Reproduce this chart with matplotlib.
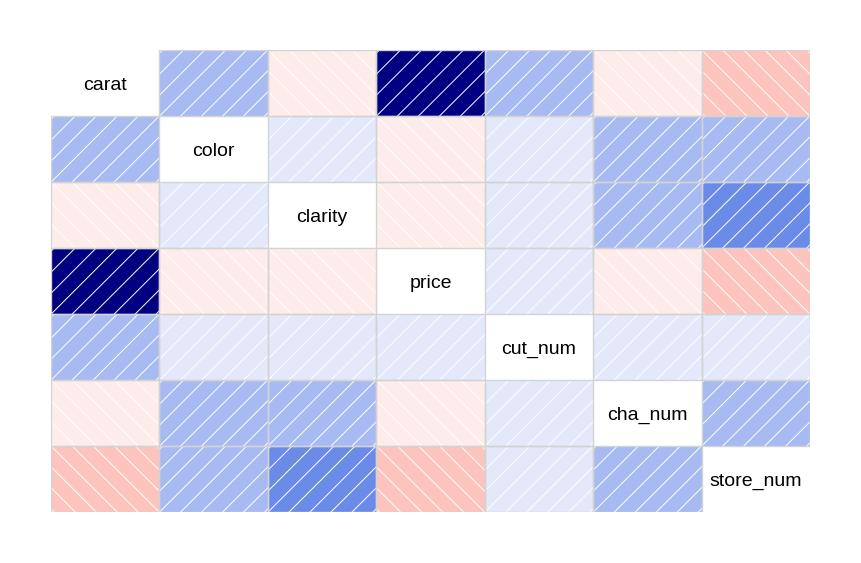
import numpy as np
import matplotlib
matplotlib.use('Agg')
import matplotlib.pyplot as plt
from matplotlib.colors import LinearSegmentedColormap
from matplotlib.patches import Rectangle

labels = ['carat', 'color', 'clarity', 'price', 'cut_num', 'cha_num', 'store_num']

# correlations (upper triangle, row by row)
carat_r = [0.20, -0.07, 0.92, 0.20, -0.07, -0.20]
color_r = [0.07, -0.07, 0.07, 0.20, 0.20]
clarity_r = [-0.07, 0.07, 0.20, 0.35]
price_r = [0.07, -0.07, -0.20]
cut_r = [0.07, 0.07]
cha_r = [0.20]

n = len(labels)
corr = np.eye(n)
for i, row in enumerate([carat_r, color_r, clarity_r, price_r, cut_r, cha_r]):
    for k, v in enumerate(row):
        corr[i, i + 1 + k] = v
        corr[i + 1 + k, i] = v

# corrgram style palette: 14 bins from red to navy
ramp = LinearSegmentedColormap.from_list('shade', ['red', 'salmon', 'white', 'royalblue', 'navy'])
ncol = 14
pal = [ramp(t) for t in np.linspace(0, 1, ncol)]
breaks = np.linspace(-1, 1, ncol + 1)

W, H = 861, 563
fig = plt.figure(figsize=(W / 100, H / 100), dpi=100)
x0, x1, y0, y1 = 51, 810, 50, 512
ax = fig.add_axes([x0 / W, 1 - y1 / H, (x1 - x0) / W, (y1 - y0) / H])
ax.set_xlim(0, n)
ax.set_ylim(n, 0)
ax.axis('off')

px_x = (x1 - x0) / n   # pixels per data unit
px_y = (y1 - y0) / n
gap = 21.0             # horizontal spacing of hatch lines in pixels

for i in range(n):
    for j in range(n):
        if i == j:
            ax.text(j + 0.5, i + 0.54, labels[i], ha='center', va='center',
                    fontsize=14, family='Liberation Sans')
            continue
        r = corr[i, j]
        idx = min(np.searchsorted(breaks, r, side='right') - 1, ncol - 1)
        ax.add_patch(Rectangle((j, i), 1, 1, facecolor=pal[idx], edgecolor='none', zorder=1))
        clip = Rectangle((j, i), 1, 1, transform=ax.transData, facecolor='none', edgecolor='none')
        ax.add_patch(clip)
        # 45 degree white lines in pixel space
        sgn = 1 if r > 0 else -1
        cx, cy = j + 0.5, i + 0.5
        for k in range(-12, 13):
            ox = k * gap / px_x
            xs = np.array([cx + ox - 2, cx + ox + 2])
            ys = cy - sgn * (xs - cx - ox) * px_x / px_y
            ln, = ax.plot(xs, ys, color='white', lw=0.7, zorder=2)
            ln.set_clip_path(clip)
        ax.add_patch(Rectangle((j, i), 1, 1, facecolor='none', edgecolor='#d3d3d3', lw=1.0, zorder=3))

fig.savefig('out.png', dpi=100)
